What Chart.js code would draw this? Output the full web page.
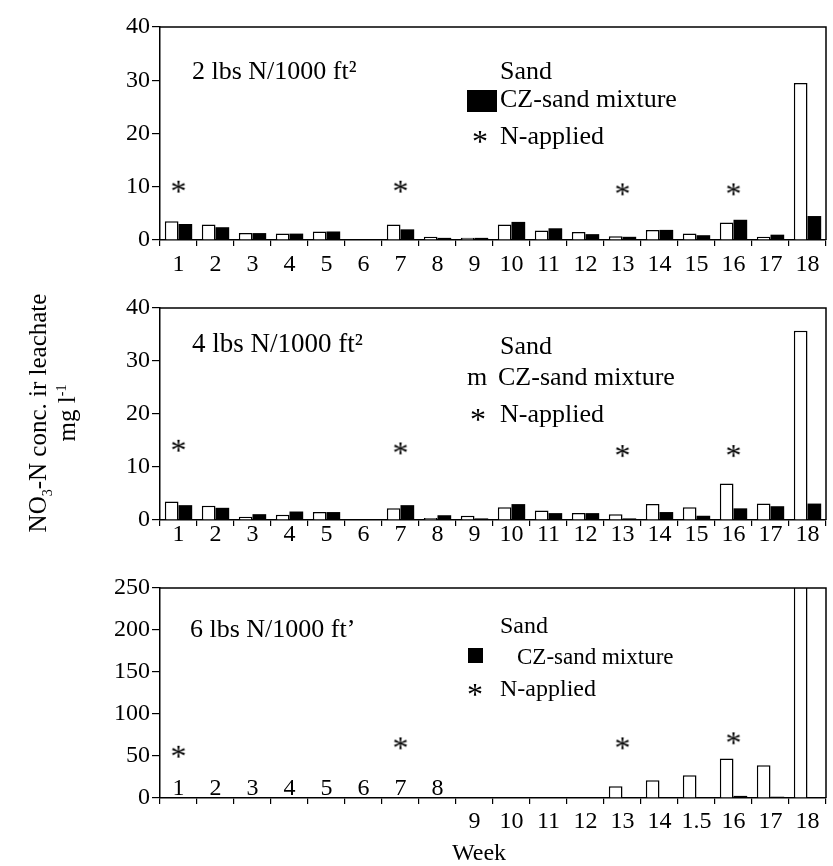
<!DOCTYPE html>
<html>
<head>
<meta charset="utf-8">
<script src="https://cdn.jsdelivr.net/npm/chart.js@4.4.1/dist/chart.umd.min.js"></script>
<style>
  body { margin: 0; background: #fff; width: 833px; height: 866px; position: relative; overflow: hidden; font-family: "Liberation Serif", serif; }
  canvas { position: absolute; left: 0; }
  #ytitle { position: absolute; left: -112px; top: 383px; width: 330px; height: 60px; transform: rotate(-90deg);
            text-align: center; font-size: 25px; line-height: 29px; color: #000; }
  #ytitle sub, #ytitle sup { font-size: 14px; line-height: 0; }
</style>
</head>
<body>
<canvas id="p1" width="833" height="280" style="top:0"></canvas>
<canvas id="p2" width="833" height="270" style="top:280px"></canvas>
<canvas id="p3" width="833" height="316" style="top:550px"></canvas>
<div id="ytitle">NO<sub>3</sub>-N conc. ir leachate<br>mg l<sup>-1</sup></div>
<script>
const weeks = ['1','2','3','4','5','6','7','8','9','10','11','12','13','14','15','16','17','18'];
const weeks6 = ['1','2','3','4','5','6','7','8','9','10','11','12','13','14','1.5','16','17','18'];

// 2 lbs N/1000 ft2
const sand2 = [3.5, 2.9, 1.3, 1.2, 1.6, 0, 2.9, 0.6, 0.4, 2.9, 1.8, 1.5, 0.7, 1.9, 1.2, 3.3, 0.6, 29.5];
const cz2   = [3.0, 2.4, 1.3, 1.2, 1.6, 0, 2.0, 0.4, 0.4, 3.4, 2.2, 1.1, 0.6, 1.9, 0.9, 3.8, 1.0, 4.5];
const applied2 = [10, null, null, null, null, null, 10, null, null, null, null, null, 9.5, null, null, 9.5, null, null];

// 4 lbs N/1000 ft2
const sand4 = [3.5, 2.7, 0.6, 1.0, 1.5, 0, 2.2, 0.4, 0.8, 2.4, 1.8, 1.3, 1.1, 3.0, 2.4, 6.9, 3.1, 35.7];
const cz4   = [2.8, 2.3, 1.1, 1.6, 1.5, 0, 2.8, 0.9, 0.3, 3.0, 1.3, 1.3, 0.3, 1.5, 0.8, 2.2, 2.6, 3.1];
const applied4 = [14, null, null, null, null, null, 13.5, null, null, null, null, null, 13, null, null, 13, null, null];

// 6 lbs N/1000 ft2
const sand6 = [0, 0, 0, 0, 0, 0, 0, 0, 0, 0, 0, 0, 14, 21, 27, 47, 39, 300];
const cz6   = [0, 0, 0, 0, 0, 0, 0, 0, 0, 0, 0, 0, 0, 0, 0, 2.5, 1.5, 0];
const applied6 = [55, null, null, null, null, null, 65, null, null, null, null, null, 65, null, null, 71, null, null];

const serif = '"Liberation Serif", "Times New Roman", serif';

// asterisk marker used for the N-applied points
const star = document.createElement('canvas');
star.width = 20; star.height = 20;
const sctx = star.getContext('2d');
sctx.font = '32px ' + serif;
sctx.textAlign = 'center';
sctx.fillStyle = '#000';
sctx.fillText('*', 10, 25);

// top and right edges of the plot box
const frame = {
  id: 'frame',
  afterDatasetsDraw(chart) {
    const { ctx, chartArea: a } = chart;
    ctx.save();
    ctx.strokeStyle = '#000';
    ctx.lineWidth = 1.5;
    ctx.beginPath();
    ctx.moveTo(a.left, a.top);
    ctx.lineTo(a.right, a.top);
    ctx.lineTo(a.right, a.bottom);
    ctx.stroke();
    ctx.restore();
  }
};

// panel heading and the hand-placed key
function notes(items) {
  return {
    id: 'notes',
    afterDraw(chart) {
      const ctx = chart.ctx;
      ctx.save();
      ctx.fillStyle = '#000';
      ctx.textBaseline = 'middle';
      for (const it of items) {
        if (it.box) ctx.fillRect(it.x, it.y, it.box[0], it.box[1]);
        else if (it.star) ctx.drawImage(star, it.x - 10, it.y - 10);
        else {
          ctx.font = it.size + 'px ' + serif;
          ctx.fillText(it.text, it.x, it.y);
        }
      }
      ctx.restore();
    }
  };
}

// week numbers for the bottom panel: 1-8 rest on the axis line, 9-18 hang below it
const splitWeeks = {
  id: 'splitWeeks',
  afterDraw(chart) {
    const { ctx, scales: { x } } = chart;
    ctx.save();
    ctx.fillStyle = '#000';
    ctx.font = '24px ' + serif;
    ctx.textAlign = 'center';
    ctx.textBaseline = 'middle';
    chart.data.labels.forEach((l, i) => {
      ctx.fillText(l, x.getPixelForTick(i), i < 8 ? x.top - 9 : x.top + 24);
    });
    ctx.restore();
  }
};

function panel(id, opts) {
  const plugins = [frame, notes(opts.notes)];
  if (opts.split) plugins.push(splitWeeks);
  new Chart(document.getElementById(id), {
    type: 'bar',
    data: {
      labels: opts.labels,
      datasets: [
        { label: 'Sand', data: opts.sand, backgroundColor: '#fff', borderColor: '#000', borderWidth: 1.5, clip: 0 },
        { label: 'CZ-sand mixture', data: opts.cz, backgroundColor: '#000', borderColor: '#000', borderWidth: 0, clip: 0 },
        { type: 'line', label: 'N-applied', data: opts.applied, showLine: false, pointStyle: star, pointRadius: 6 }
      ]
    },
    options: {
      responsive: false,
      animation: false,
      layout: { padding: { top: opts.top, right: 3, left: 0, bottom: 0 } },
      datasets: { bar: { categoryPercentage: 0.74, barPercentage: 1 } },
      plugins: { legend: { display: false }, tooltip: { enabled: false } },
      scales: {
        x: {
          grid: { offset: true, drawOnChartArea: false, tickLength: 6, color: '#000', lineWidth: 1.2 },
          border: { color: '#000', width: 1.5 },
          ticks: {
            display: !opts.split,
            color: '#000', autoSkip: false, maxRotation: 0, padding: opts.xPad,
            font: { family: serif, size: 24 }
          },
          afterFit: s => { s.height = opts.xHeight; }
        },
        y: {
          min: 0, max: opts.max,
          grid: { drawOnChartArea: false, tickLength: 8, color: '#000', lineWidth: 1.2 },
          border: { color: '#000', width: 1.5 },
          ticks: { stepSize: opts.step, color: '#000', padding: 2, font: { family: serif, size: 24 } },
          afterFit: s => { s.width = 160; }
        }
      }
    },
    plugins
  });
}

panel('p1', {
  labels: weeks, sand: sand2, cz: cz2, applied: applied2,
  max: 40, step: 10, top: 27, xHeight: 40, xPad: 4,
  notes: [
    { text: '2 lbs N/1000 ft\u00b2', x: 192, y: 72, size: 26 },
    { text: 'Sand', x: 500, y: 72, size: 26 },
    { box: [30, 22], x: 467, y: 90 },
    { text: 'CZ-sand mixture', x: 500, y: 100, size: 26 },
    { star: true, x: 480, y: 137 },
    { text: 'N-applied', x: 500, y: 137, size: 26 }
  ]
});

panel('p2', {
  labels: weeks, sand: sand4, cz: cz4, applied: applied4,
  max: 40, step: 10, top: 28, xHeight: 30, xPad: -6,
  notes: [
    { text: '4 lbs N/1000 ft\u00b2', x: 192, y: 65, size: 27 },
    { text: 'Sand', x: 500, y: 67, size: 26 },
    { text: 'm', x: 467, y: 98, size: 26 },
    { text: 'CZ-sand mixture', x: 498, y: 98, size: 26 },
    { star: true, x: 478, y: 135 },
    { text: 'N-applied', x: 500, y: 135, size: 26 }
  ]
});

panel('p3', {
  labels: weeks6, sand: sand6, cz: cz6, applied: applied6,
  max: 250, step: 50, top: 38, xHeight: 68, xPad: 0, split: true,
  notes: [
    { text: '6 lbs N/1000 ft\u2019', x: 190, y: 80, size: 26 },
    { text: 'Sand', x: 500, y: 77, size: 24 },
    { box: [15, 15], x: 468, y: 98 },
    { text: 'CZ-sand mixture', x: 517, y: 108, size: 23 },
    { star: true, x: 475, y: 140 },
    { text: 'N-applied', x: 500, y: 140, size: 24 },
    { text: 'Week', x: 452, y: 304, size: 24 }
  ]
});
</script>
</body>
</html>
